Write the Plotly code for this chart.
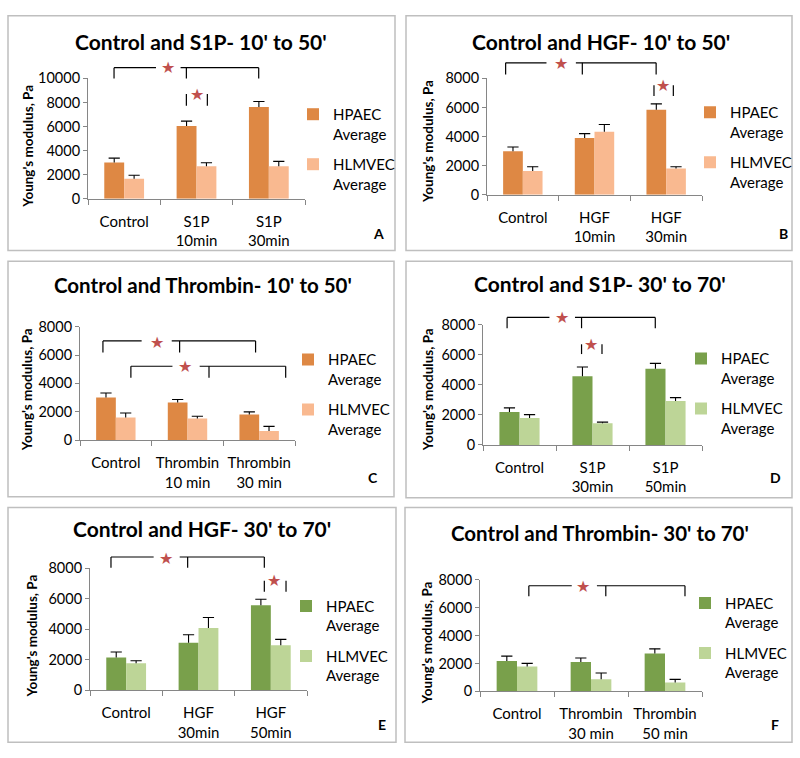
import plotly.graph_objects as go

W, H = 800, 758
FONT = "Lato, 'Open Sans', sans-serif"

# ---------------- data ----------------
cats_A = ["Control", "S1P<br>10min", "S1P<br>30min"]
hpaec_A = [3000, 6050, 7620]
hpaec_err_A = [370, 400, 460]
hlmvec_A = [1660, 2700, 2700]
hlmvec_err_A = [290, 290, 400]

cats_B = ["Control", "HGF<br>10min", "HGF<br>30min"]
hpaec_B = [2990, 3910, 5850]
hpaec_err_B = [290, 290, 400]
hlmvec_B = [1630, 4340, 1810]
hlmvec_err_B = [300, 490, 110]

cats_C = ["Control", "Thrombin<br>10 min", "Thrombin<br>30 min"]
hpaec_C = [3000, 2650, 1800]
hpaec_err_C = [320, 210, 190]
hlmvec_C = [1590, 1520, 650]
hlmvec_err_C = [320, 160, 320]

cats_D = ["Control", "S1P<br>30min", "S1P<br>50min"]
hpaec_D = [2190, 4580, 5080]
hpaec_err_D = [280, 610, 350]
hlmvec_D = [1800, 1450, 2930]
hlmvec_err_D = [220, 70, 220]

cats_E = ["Control", "HGF<br>30min", "HGF<br>50min"]
hpaec_E = [2150, 3110, 5570]
hpaec_err_E = [360, 530, 400]
hlmvec_E = [1770, 4090, 2960]
hlmvec_err_E = [170, 680, 380]

cats_F = ["Control", "Thrombin<br>30 min", "Thrombin<br>50 min"]
hpaec_F = [2180, 2110, 2720]
hpaec_err_F = [350, 280, 330]
hlmvec_F = [1780, 870, 630]
hlmvec_err_F = [230, 450, 230]

series_names = ["HPAEC<br>Average", "HLMVEC<br>Average"]
titles = {
    "A": "Control and S1P- 10' to 50'",
    "B": "Control and HGF- 10' to 50'",
    "C": "Control and Thrombin- 10' to 50'",
    "D": "Control and S1P- 30' to 70'",
    "E": "Control and HGF- 30' to 70'",
    "F": "Control and Thrombin- 30' to 70'",
}
y_title = "Young's modulus, Pa"
y_max = {"A": 10000, "B": 8000, "C": 8000, "D": 8000, "E": 8000, "F": 8000}
y_step = 2000

# significance brackets: legs (category units), top / leg-bottom (Pa), star (x, Pa), gap in line
brackets = {
    "A": [dict(legs=[-0.14, 0.86, 1.86], top=10890, bot=10000, star=(0.60, 10890), gap=(0.44, 0.78)),
          dict(legs=[0.86, 1.15], top=8700, bot=7720, star=(1.01, 8650), gap=None)],
    "B": [dict(legs=[-0.24, 0.83, 1.86], top=9070, bot=8270, star=(0.53, 9000), gap=(0.33, 0.74)),
          dict(legs=[1.83, 2.10], top=7530, bot=6790, star=(1.96, 7530), gap=None)],
    "C": [dict(legs=[-0.18, 0.89, 1.95], top=7000, bot=6180, star=(0.58, 6870), gap=(0.36, 0.78)),
          dict(legs=[0.21, 1.30, 2.37], top=5210, bot=4400, star=(0.97, 5190), gap=(0.79, 1.17))],
    "D": [dict(legs=[-0.17, 0.85, 1.86], top=8490, bot=7770, star=(0.58, 8490), gap=(0.41, 0.76)),
          dict(legs=[0.85, 1.13], top=6700, bot=6050, star=(0.975, 6700), gap=None)],
    "E": [dict(legs=[-0.21, 0.85, 1.91], top=8730, bot=8020, star=(0.55, 8660), gap=(0.38, 0.74)),
          dict(legs=[1.91, 2.21], top=7170, bot=6460, star=(2.04, 7170), gap=None)],
    "F": [dict(legs=[0.16, 1.20, 2.27], top=7580, bot=6830, star=(0.89, 7510), gap=(0.74, 1.08))],
}

# ---------------- styling / layout (pixels) ----------------
ORANGE, LIGHT_ORANGE = "#DE8844", "#F9B990"
GREEN, LIGHT_GREEN = "#79A04B", "#BDD597"
STAR = "#C0504D"
AXIS = "#868686"
ERR = "#000000"
BOX = "#BFBFBF"

panels = [
    dict(key="A", cats=cats_A, h=hpaec_A, he=hpaec_err_A, l=hlmvec_A, le=hlmvec_err_A, colors=(ORANGE, LIGHT_ORANGE),
         plot=(88, 305, 71, 194), box=(8, 395, 7, 247), title=(201, 33, 21), ytitle=(28, 141),
         legend=(293, 91), letter=(378, 230)),
    dict(key="B", cats=cats_B, h=hpaec_B, he=hpaec_err_B, l=hlmvec_B, le=hlmvec_err_B, colors=(ORANGE, LIGHT_ORANGE),
         plot=(487, 702, 71, 190), box=(406, 792, 7, 247), title=(601, 33, 21), ytitle=(428, 136),
         legend=(690, 89), letter=(783, 230)),
    dict(key="C", cats=cats_C, h=hpaec_C, he=hpaec_err_C, l=hlmvec_C, le=hlmvec_err_C, colors=(ORANGE, LIGHT_ORANGE),
         plot=(80, 295, 325, 441), box=(8, 394, 258, 499), title=(203, 282, 20.5), ytitle=(27, 390),
         legend=(288, 342), letter=(373, 479)),
    dict(key="D", cats=cats_D, h=hpaec_D, he=hpaec_err_D, l=hlmvec_D, le=hlmvec_err_D, colors=(GREEN, LIGHT_GREEN),
         plot=(483, 702, 323, 446), box=(406, 792, 258, 500), title=(600, 281, 21), ytitle=(428, 390),
         legend=(681, 341), letter=(775, 479)),
    dict(key="E", cats=cats_E, h=hpaec_E, he=hpaec_err_E, l=hlmvec_E, le=hlmvec_err_E, colors=(GREEN, LIGHT_GREEN),
         plot=(90, 307, 572, 697), box=(8, 396, 510, 750), title=(202, 531, 21), ytitle=(32, 642),
         legend=(286, 594), letter=(382, 732)),
    dict(key="F", cats=cats_F, h=hpaec_F, he=hpaec_err_F, l=hlmvec_F, le=hlmvec_err_F, colors=(GREEN, LIGHT_GREEN),
         plot=(480, 702, 584, 698), box=(405, 792, 510, 750), title=(600, 536, 20.5), ytitle=(427, 648),
         legend=(685, 591), letter=(775, 732)),
]

BAR_GAP = 0.45
BW = (1 - BAR_GAP) / 2


def px(xp):
    return xp / W


def py(yp):
    return 1 - yp / H


fig = go.Figure()
shapes, annotations = [], []
layout = dict(width=W, height=H, autosize=False, margin=dict(l=0, r=0, t=0, b=0, pad=0),
              paper_bgcolor="white", plot_bgcolor="white",
              font=dict(family=FONT, color="#000000"), barmode="overlay")

for n, p in enumerate(panels, start=1):
    k = p["key"]
    sfx = "" if n == 1 else str(n)
    xr, yr = "x" + sfx, "y" + sfx
    leg = "legend" + sfx
    xs = list(range(len(p["cats"])))
    ymx = y_max[k]
    x0, x1, yt, yb = p["plot"]
    xmin, xmax = -0.5, len(xs) - 0.5

    def xd(v):
        return (v - xmin) / (xmax - xmin)

    # bars
    for j, (vals, col, off) in enumerate([(p["h"], p["colors"][0], -BW), (p["l"], p["colors"][1], 0.0)]):
        fig.add_trace(go.Bar(x=xs, y=vals, name=series_names[j], offset=off, width=BW,
                             marker=dict(color=col, line=dict(width=0)),
                             xaxis=xr, yaxis=yr, legend=leg, legendgroup=k + str(j),
                             hoverinfo="skip"))
    # error bars (plus side only)
    for vals, errs, off in [(p["h"], p["he"], -BW / 2), (p["l"], p["le"], BW / 2)]:
        fig.add_trace(go.Scatter(
            x=[i + off for i in xs], y=[v + e for v, e in zip(vals, errs)], mode="markers",
            marker=dict(symbol="line-ew", size=8, color=ERR, line=dict(width=1.1, color=ERR)),
            error_y=dict(type="data", symmetric=False, array=[0] * len(errs), arrayminus=errs,
                         width=0, thickness=1.1, color=ERR),
            xaxis=xr, yaxis=yr, showlegend=False, hoverinfo="skip"))

    layout["xaxis" + sfx] = dict(
        domain=[px(x0), px(x1)], anchor=yr, range=[xmin, xmax], fixedrange=True,
        tickmode="array", tickvals=xs, ticktext=p["cats"], ticks="", showgrid=False, zeroline=False,
        showline=True, linecolor=AXIS, linewidth=1, ticklabelstandoff=9,
        minor=dict(tickmode="array", tickvals=[i - 0.5 for i in range(len(xs) + 1)], ticks="outside",
                   ticklen=5, tickcolor=AXIS, tickwidth=1, showgrid=False),
        tickfont=dict(size=15, family=FONT, color="#000"))
    layout["yaxis" + sfx] = dict(
        domain=[py(yb), py(yt)], anchor=xr, range=[0, ymx], fixedrange=True,
        tickmode="linear", tick0=0, dtick=y_step, tickformat="d", ticks="outside", ticklen=4,
        tickcolor=AXIS, showgrid=False, zeroline=False, showline=True, linecolor=AXIS, linewidth=1,
        tickfont=dict(size=14.5, family=FONT, color="#000"))
    lx, ly = p["legend"]
    layout[leg] = dict(x=px(lx), y=py(ly), xanchor="left", yanchor="top", valign="top",
                       font=dict(size=15, family=FONT, color="#000"), tracegroupgap=8,
                       bgcolor="rgba(0,0,0,0)", borderwidth=0, itemclick=False, itemdoubleclick=False)

    # panel border
    bx0, bx1, by0, by1 = p["box"]
    shapes.append(dict(type="rect", xref="paper", yref="paper", x0=px(bx0), x1=px(bx1), y0=py(by1), y1=py(by0),
                       line=dict(color=BOX, width=1.5), fillcolor="rgba(0,0,0,0)", layer="below"))
    # significance brackets and stars
    for b in brackets[k]:
        for lgx in b["legs"]:
            shapes.append(dict(type="line", xref=xr + " domain", yref=yr + " domain",
                               x0=xd(lgx), x1=xd(lgx), y0=b["bot"] / ymx, y1=b["top"] / ymx,
                               line=dict(color="#000", width=1.2)))
        if b["gap"] is not None:
            for sa, sb in [(b["legs"][0], b["gap"][0]), (b["gap"][1], b["legs"][-1])]:
                shapes.append(dict(type="line", xref=xr + " domain", yref=yr + " domain",
                                   x0=xd(sa), x1=xd(sb), y0=b["top"] / ymx, y1=b["top"] / ymx,
                                   line=dict(color="#000", width=1.2)))
        sx, sy = b["star"]
        annotations.append(dict(text="★", xref=xr + " domain", yref=yr + " domain",
                                x=xd(sx), y=sy / ymx, xanchor="center", yanchor="middle", showarrow=False,
                                font=dict(size=16, family="DejaVu Sans", color=STAR)))
    # texts
    tx, ty, ts = p["title"]
    annotations.append(dict(text="<b>" + titles[k] + "</b>", xref="paper", yref="paper", x=px(tx), y=py(ty),
                            xanchor="center", yanchor="middle", showarrow=False,
                            font=dict(size=ts, family=FONT, color="#000")))
    yx, yy = p["ytitle"]
    annotations.append(dict(text="<b>" + y_title + "</b>", xref="paper", yref="paper", x=px(yx), y=py(yy),
                            xanchor="center", yanchor="middle", textangle=-90, showarrow=False,
                            font=dict(size=13.5, family=FONT, color="#000")))
    lx2, ly2 = p["letter"]
    annotations.append(dict(text="<b>" + k + "</b>", xref="paper", yref="paper", x=px(lx2), y=py(ly2),
                            xanchor="center", yanchor="middle", showarrow=False,
                            font=dict(size=14, family=FONT, color="#000")))

layout["shapes"] = shapes
layout["annotations"] = annotations
fig.update_layout(**layout)

fig.write_html("out.html", config={"displayModeBar": False},
               post_script="document.body.style.margin='0';document.documentElement.style.overflow='hidden';")
